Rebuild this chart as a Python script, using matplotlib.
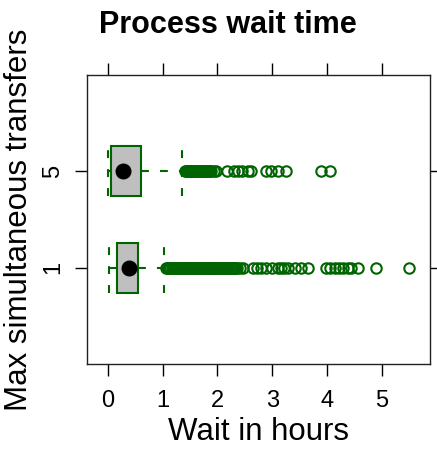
import matplotlib
matplotlib.use('Agg')
import matplotlib.pyplot as plt

plt.rcParams['font.family'] = ['Liberation Sans', 'DejaVu Sans']

# categorias y estadisticos de cada caja (horas)
grupos = ['1', '5']
q1 = [0.16, 0.055]
mediana = [0.39, 0.28]
q3 = [0.54, 0.60]
bigote_bajo = [0.01, 0.0]
bigote_alto = [1.03, 1.36]

# valores atipicos
atipicos_1 = [1.06, 1.08, 1.10, 1.12, 1.14, 1.16, 1.18, 1.20, 1.22, 1.24,
              1.26, 1.28, 1.30, 1.32, 1.34, 1.36, 1.38, 1.40, 1.42, 1.44,
              1.46, 1.48, 1.50, 1.52, 1.54, 1.56, 1.58, 1.60, 1.62, 1.64,
              1.66, 1.68, 1.70, 1.72, 1.74, 1.76, 1.78, 1.80, 1.82, 1.84,
              1.86, 1.88, 1.90, 1.92, 1.94, 1.96, 1.98, 2.00, 2.02, 2.04,
              2.06, 2.08, 2.10, 2.12, 2.14, 2.16, 2.18, 2.20, 2.22, 2.24,
              2.26, 2.28, 2.30, 2.32, 2.34, 2.36,
              2.42, 2.47, 2.65, 2.72, 2.80, 2.88, 2.99, 3.10, 3.17, 3.22,
              3.29, 3.41, 3.53, 3.65, 3.98, 4.05, 4.14, 4.23, 4.30, 4.38,
              4.44, 4.56, 4.90, 5.50]
atipicos_5 = [1.40, 1.42, 1.44, 1.46, 1.48, 1.50, 1.52, 1.54, 1.56, 1.58,
              1.60, 1.62, 1.64, 1.66, 1.68, 1.70, 1.72, 1.74, 1.76, 1.78,
              1.80, 1.82, 1.84, 1.86, 1.88,
              1.93, 1.98, 2.17, 2.30, 2.37, 2.45, 2.55, 2.62, 2.88, 2.97,
              3.10, 3.25, 3.90, 4.05]
atipicos = [atipicos_1, atipicos_5]

verde = '#006400'
discontinua = (0, (3.8, 5.3))

fig = plt.figure(figsize=(4.37, 4.51), dpi=100)
ax = fig.add_axes([87 / 437, 1 - 364 / 451, 343 / 437, 289 / 451])

estadisticos = []
for i in range(len(grupos)):
    estadisticos.append({'label': grupos[i], 'q1': q1[i], 'med': mediana[i],
                         'q3': q3[i], 'whislo': bigote_bajo[i],
                         'whishi': bigote_alto[i], 'fliers': atipicos[i]})

posiciones = [1, 2]
ax.bxp(estadisticos, positions=posiciones, widths=0.52, capwidths=0.52,
       orientation='horizontal', patch_artist=True,
       boxprops=dict(facecolor='#bfbfbf', edgecolor=verde, linewidth=1.5),
       whiskerprops=dict(color=verde, linewidth=1.5, linestyle=discontinua),
       capprops=dict(color=verde, linewidth=1.5, linestyle=discontinua),
       medianprops=dict(visible=False),
       flierprops=dict(marker='o', markerfacecolor='none',
                       markeredgecolor=verde, markersize=7.5,
                       markeredgewidth=1.5),
       zorder=2)
ax.plot(mediana, posiciones, 'o', color='black', markersize=10.5, zorder=3)

ax.set_xlim(-0.385, 5.885)
ax.set_ylim(0, 3)
ax.set_xticks([0, 1, 2, 3, 4, 5])
ax.set_xticklabels(['0', '1', '2', '3', '4', '5'])
ax.set_yticks(posiciones)
ax.set_yticklabels(grupos, rotation=90, va='center')
ax.tick_params(axis='both', direction='out', length=8.5, width=1,
               labelsize=17, top=True, right=True)
ax.tick_params(axis='x', pad=10)
ax.tick_params(axis='y', pad=8)
for lado in ax.spines.values():
    lado.set_linewidth(1)
    lado.set_color('#222222')

ax.set_xlabel('Wait in hours', fontsize=22.5, labelpad=4)
ax.set_ylabel('Max simultaneous transfers', fontsize=22.5, labelpad=6)
fig.text(228 / 437, 1 - 25 / 451, 'Process wait time', fontsize=22,
         fontweight='bold', ha='center', va='center')

fig.savefig('out.png', dpi=100)
